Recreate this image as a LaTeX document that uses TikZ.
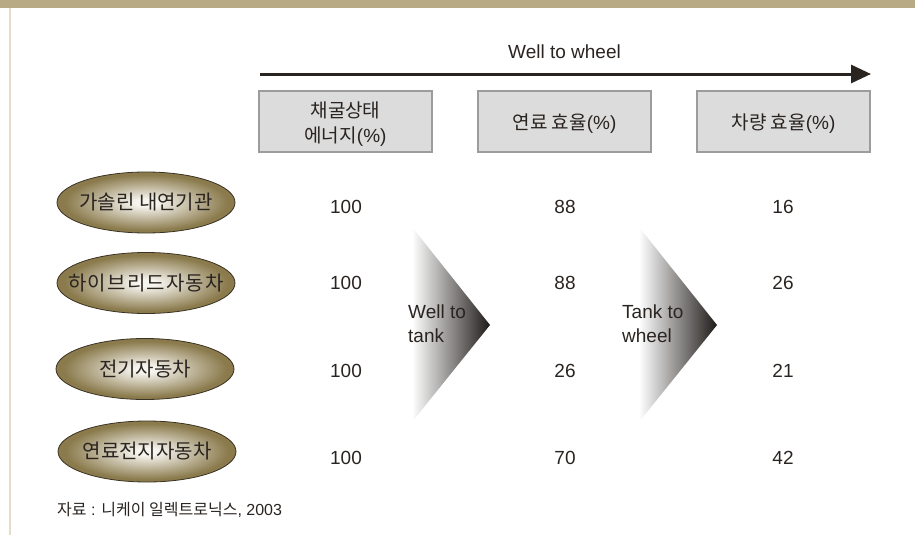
\documentclass[tikz,border=0pt]{standalone}
\usepackage{fontspec}
\setmainfont{Liberation Sans}
\newfontfamily\kr{Noto Sans CJK KR}
\usetikzlibrary{shapes.geometric,arrows.meta}
\definecolor{barc}{HTML}{B9AA86}
\definecolor{sidec}{HTML}{E6DCCA}
\definecolor{ink}{HTML}{2A2421}
\definecolor{boxfill}{HTML}{DCDCDC}
\definecolor{boxline}{HTML}{9C9C9C}
\definecolor{ellin}{HTML}{F6F4EE}
\definecolor{ellout}{HTML}{8A7A4C}
\definecolor{ellline}{HTML}{3A3224}
\definecolor{chevdark}{HTML}{1E1A18}
\pgfdeclareradialshading{eggshade}{\pgfpoint{0bp}{0bp}}{color(0bp)=(ellin); color(3bp)=(ellin); color(23bp)=(ellout); color(25bp)=(ellout); color(50bp)=(ellout)}
\begin{document}
\begin{tikzpicture}[x=1pt,y=-1pt,
  txt/.style={text=ink, font=\fontsize{19}{24}\selectfont, inner sep=0pt},
  hdrbox/.style={draw=boxline, line width=1.2pt, fill=boxfill, minimum width=173pt, minimum height=61pt, inner sep=0pt},
  hdrtxt/.style={inner sep=0pt, align=center, text=ink, font=\fontsize{19}{25}\selectfont},
  car/.style={ellipse, draw=ellline, line width=0.8pt, shading=eggshade, minimum width=178pt, minimum height=61pt, inner sep=0pt},
  cartxt/.style={inner sep=0pt, text=ink, font=\kr\fontsize{20}{22}\selectfont},
  chev/.style={left color=white, middle color=black!40, right color=chevdark}]
\useasboundingbox (0,0) rectangle (915,535);
% frame
\fill[barc] (0,0) rectangle (915,8);
\fill[sidec] (9,8) rectangle (11,535);
% top arrow
\coordinate (wws) at (260,74);
\coordinate (wwe) at (871,74);
\draw[ink, line width=3pt, -{Triangle[length=20pt,width=18pt]}] (wws) -- (wwe);
\node[txt] (ww) at (564.5,52) {Well to wheel};
% header boxes
\node[hdrbox] (h1) at (345.5,121.5) {};
\node[hdrbox] (h2) at (564.5,121.5) {};
\node[hdrbox] (h3) at (783.5,121.5) {};
\node[hdrtxt] (h1t) at ([yshift=-3pt]h1.center) {{\kr 채굴상태}\\{\kr 에너지}(\%)};
\node[hdrtxt] (h2t) at ([yshift=-2pt]h2.center) {{\kr 연료 효율}(\%)};
\node[hdrtxt] (h3t) at ([yshift=-2pt]h3.center) {{\kr 차량 효율}(\%)};
% chevrons
\shade[chev] (412,227) -- (490,325) -- (412,422) -- cycle;
\shade[chev] (639,227) -- (717,325) -- (639,422) -- cycle;
\node[txt, anchor=west, align=left] (wt) at (408,324) {Well to\\tank};
\node[txt, anchor=west, align=left] (tw) at (622,324) {Tank to\\wheel};
% vehicles
\node[car] (c1) at (146,202.5) {};
\node[car] (c2) at (146,283) {};
\node[car] (c3) at (145,369) {};
\node[car] (c4) at (147,451.5) {};
\node[cartxt] (c1t) at (c1.center) {가솔린 내연기관};
\node[cartxt] (c2t) at (c2.center) {\addfontfeature{LetterSpace=6}하이브리드자동차};
\node[cartxt] (c3t) at (c3.center) {전기자동차};
\node[cartxt] (c4t) at (c4.center) {연료전지자동차};
% numbers
\node[txt] (a1) at (346,207) {100};
\node[txt] (a2) at (346,283) {100};
\node[txt] (a3) at (346,371) {100};
\node[txt] (a4) at (346,458) {100};
\node[txt] (b1) at (565,207) {88};
\node[txt] (b2) at (565,283) {88};
\node[txt] (b3) at (565,371) {26};
\node[txt] (b4) at (565,458) {70};
\node[txt] (d1) at (783,207) {16};
\node[txt] (d2) at (783,283) {26};
\node[txt] (d3) at (783,371) {21};
\node[txt] (d4) at (783,458) {42};
% source
\node[anchor=west, inner sep=0pt, text=ink, font=\fontsize{16}{18}\selectfont] (src) at (57,510) {{\kr 자료} : {\kr 니케이 일렉트로닉스}, 2003};
\end{tikzpicture}
\end{document}
